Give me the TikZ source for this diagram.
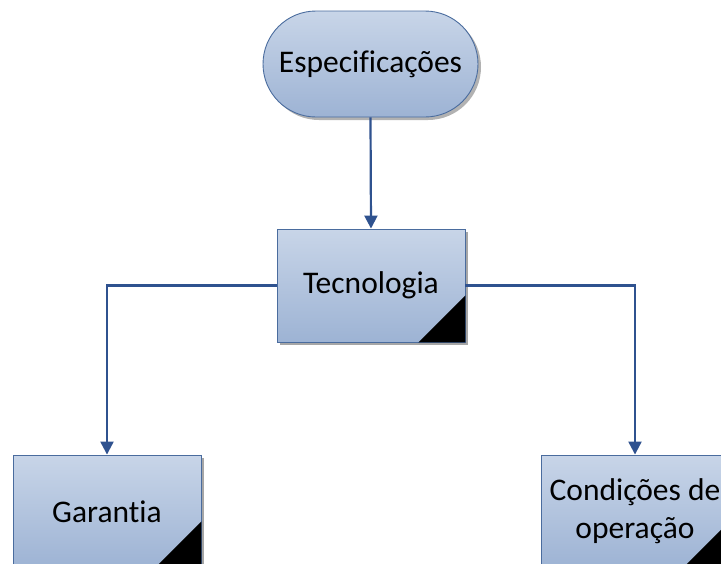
\documentclass[tikz,border=0pt]{standalone}
\usepackage{fontspec}
\setmainfont{Carlito}[Ligatures=NoCommon]
\usetikzlibrary{arrows.meta,shapes.misc}
\definecolor{edgeblue}{HTML}{2F528F}
\definecolor{boxline}{HTML}{4A6C9E}
\definecolor{filltop}{HTML}{C8D5E8}
\definecolor{fillbot}{HTML}{9DB3D4}
\tikzset{
  x=1pt, y=-1pt,
  flowbox/.style={draw=boxline, line width=0.9pt, top color=filltop, bottom color=fillbot,
    minimum width=188pt, minimum height=113pt, inner sep=0pt, font=\fontsize{31.5}{38}\selectfont,
    align=center, text=black},
  termbox/.style={flowbox, rounded rectangle, minimum width=215pt, minimum height=106pt},
  shadowfill/.style={fill=black!35, draw=none},
  link/.style={draw=edgeblue, line width=2.2pt},
  arrowlink/.style={link, -{Triangle[width=13pt,length=13pt]}},
  corner/.style={fill=black, draw=none}
}
\begin{document}
\begin{tikzpicture}
\useasboundingbox (0,0) rectangle (721,563);
% soft shadows behind the shapes
\fill[black!30, rounded corners=53pt] (266,14) rectangle (481,120);
\fill[shadowfill] (280,232) rectangle (468,345);
\fill[shadowfill] (16,458) rectangle (204,571);
\fill[shadowfill] (544,458) rectangle (732,571);
% shapes
\node[termbox] (spec) at (370.5,64) {Especificações};
\node[flowbox] (tec) at (371,285.5) {Tecnologia};
\node[flowbox] (gar) at (107,511.5) {Garantia};
\node[flowbox] (cond) at (635,511.5) {Condições de\\operação};
% folded corners
\foreach \b in {tec,gar,cond}{
  \fill[corner] (\b.south east) -- ++(-47,0) -- ++(47,-47) -- cycle;
}
% connectors
\draw[arrowlink] (spec.south) -- (tec.north);
\draw[arrowlink] (tec.west) -| (gar.north);
\draw[arrowlink] (tec.east) -| (cond.north);
\end{tikzpicture}
\end{document}
